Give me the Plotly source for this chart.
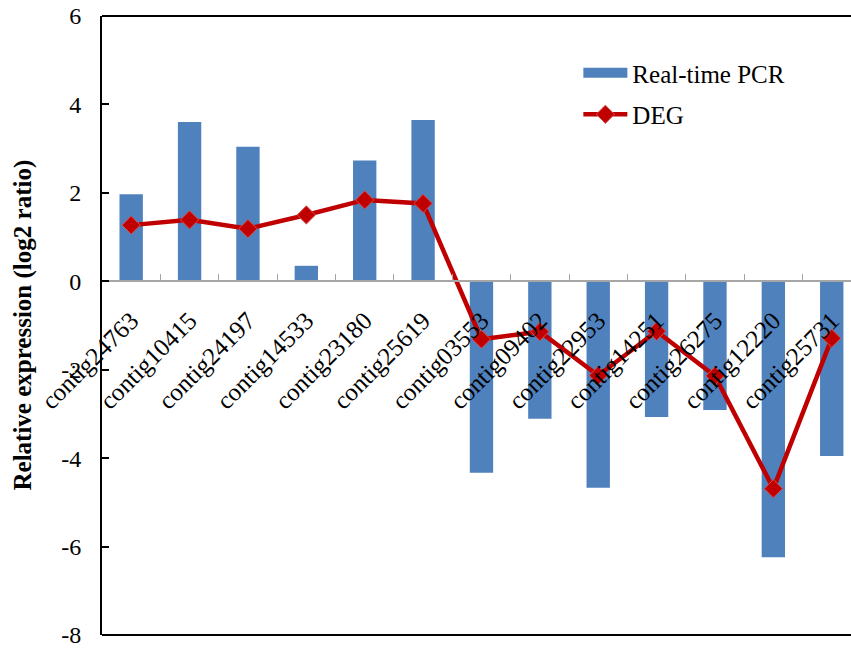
import plotly.graph_objects as go

categories = ["contig24763", "contig10415", "contig24197", "contig14533", "contig23180",
              "contig25619", "contig03553", "contig09402", "contig22953", "contig14251",
              "contig26275", "contig12220", "contig25731"]
pcr_values = [1.97, 3.60, 3.04, 0.35, 2.73, 3.65, -4.33, -3.11, -4.67, -3.07, -2.91, -6.24, -3.95]
deg_values = [1.27, 1.39, 1.19, 1.50, 1.84, 1.76, -1.31, -1.14, -2.13, -1.13, -2.14, -4.69, -1.29]
y_ticks = [-8, -6, -4, -2, 0, 2, 4, 6]
y_tick_text = ["-8", "-6", "-4", "-2", "0", "2", "4", "6"]
y_title = "Relative expression (log2 ratio)"

FONT = "Liberation Serif, Times New Roman, serif"
BLUE = "#4F81BD"
RED = "#C00000"

fig = go.Figure()
fig.add_trace(go.Bar(
    x=categories, y=pcr_values, name="Real-time PCR",
    marker=dict(color=BLUE, line=dict(width=0)),
    width=0.4, legendgroup="a", showlegend=False,
))
# legend-only entry giving the wide rectangular key used in the reference
fig.add_trace(go.Scatter(
    x=[None], y=[None], name="Real-time PCR", mode="lines",
    line=dict(color=BLUE, width=12), legendgroup="a", showlegend=True,
))
fig.add_trace(go.Scatter(
    x=categories, y=deg_values, name="DEG", mode="lines+markers",
    line=dict(color=RED, width=4.5),
    marker=dict(symbol="diamond", size=14, color=RED,
                line=dict(color="#D95050", width=1)),
    legendgroup="b",
))

ymin, ymax = -8, 6
fig.update_layout(
    width=851, height=649,
    margin=dict(l=102, r=0, t=16, b=14),
    paper_bgcolor="white", plot_bgcolor="white",
    font=dict(family=FONT, size=24, color="black"),
    showlegend=True,
    legend=dict(x=0.636, y=0.945, xanchor="left", yanchor="top",
                font=dict(size=25), traceorder="grouped", tracegroupgap=6,
                itemwidth=44, bgcolor="rgba(0,0,0,0)"),
    xaxis=dict(
        type="category", categoryorder="array", categoryarray=categories,
        range=[-0.5, 12.33],
        anchor="free", position=(0 - ymin) / (ymax - ymin),
        showline=True, linecolor="#A6A6A6", linewidth=1.5,
        ticks="inside", tickson="boundaries", ticklen=7, tickcolor="#A6A6A6", tickwidth=1,
        tickangle=-45, tickfont=dict(size=25), ticklabelstandoff=14,
        showgrid=False, zeroline=False, automargin=False,
    ),
    yaxis=dict(
        range=[ymin, ymax], tickvals=y_ticks, ticktext=y_tick_text,
        showline=True, linecolor="black", linewidth=2,
        ticks="inside", ticklen=7, tickcolor="black", tickwidth=1.5,
        tickfont=dict(size=24), ticklabelstandoff=14, ticklabeloverflow="allow",
        showgrid=False, zeroline=False, automargin=False,
    ),
    annotations=[
        dict(text="<b>" + y_title + "</b>", textangle=-90,
             xref="paper", yref="paper", x=0, y=0.5, xshift=-80,
             xanchor="center", yanchor="middle", showarrow=False,
             font=dict(size=25, family=FONT, color="black")),
    ],
    shapes=[
        dict(type="line", xref="paper", yref="paper", x0=0, x1=1, y0=1, y1=1,
             line=dict(color="black", width=2)),
        dict(type="line", xref="paper", yref="paper", x0=0, x1=1, y0=0, y1=0,
             line=dict(color="black", width=2)),
    ],
    bargap=0.6,
)

fig.write_html("out.html", config={"displayModeBar": False},
               post_script="document.body.style.margin='0';")
